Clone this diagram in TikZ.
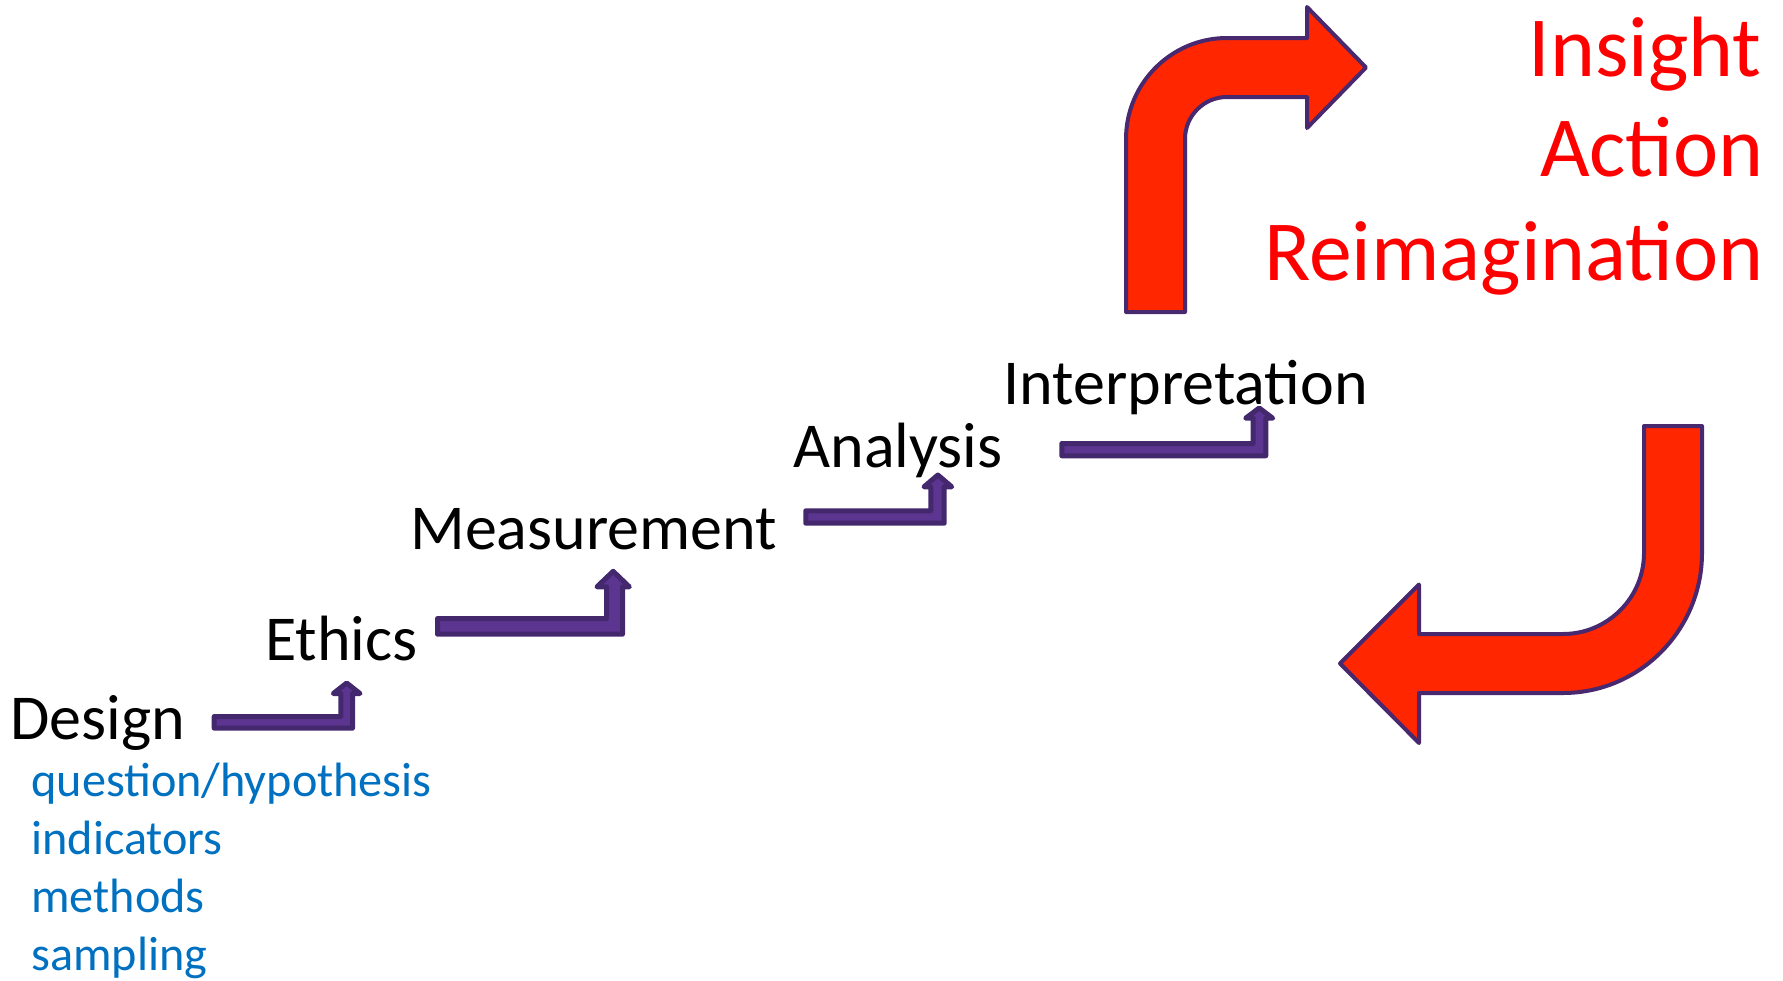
\documentclass[tikz,border=0pt]{standalone}
\usepackage{fontspec}
\setmainfont{Carlito}
\definecolor{stepfill}{RGB}{92,53,145}
\definecolor{stepline}{RGB}{68,40,110}
\definecolor{bigfill}{RGB}{255,38,0}
\definecolor{bigline}{RGB}{72,40,110}
\definecolor{textred}{RGB}{255,0,0}
\definecolor{textblue}{RGB}{0,112,192}
\newcommand{\steparrow}[9]{%
  \draw[stepstyle] ({#1+2.5},{#2+2.5}) -- ({#4+2.5},{#2+2.5}) -- ({#4+2.5},{#6-2.5})
    -- ({#7+4},{#6-2.5}) -- ({(#7+#8)/2},{#9+4}) -- ({#8-4},{#6-2.5})
    -- ({#5-2.5},{#6-2.5}) -- ({#5-2.5},{#3-2.5}) -- ({#1+2.5},{#3-2.5}) -- cycle;}
\begin{document}
\begin{tikzpicture}[x=0.5pt,y=-0.5pt,
  stepstyle/.style={fill=stepfill,draw=stepline,line width=2.5pt,line join=round},
  bigarrow/.style={fill=bigfill,draw=bigline,line width=2pt,line join=round},
  label/.style={inner sep=0pt,anchor=base west,font=\fontsize{32}{38}\selectfont},
  redlabel/.style={inner sep=0pt,anchor=base east,text=textred,font=\fontsize{42.8}{51}\selectfont},
  bluelabel/.style={inner sep=0pt,anchor=base west,text=textblue,font=\fontsize{24.1}{29}\selectfont}]
\useasboundingbox (0,0) rectangle (1783,980);
% stage labels
\node[label] (design) at (10,739) {Design};
\node[label] (ethics) at (265,660) {Ethics};
\node[label] (measurement) at (410,549.5) {Measurement};
\node[label] (analysis) at (793,467) {Analysis};
\node[label] (interpretation) at (1003,404) {Interpretation};
% design details
\node[bluelabel] (q) at (31,796) {question/hypothesis};
\node[bluelabel] (ind) at (31,854.5) {indicators};
\node[bluelabel] (meth) at (31,912) {methods};
\node[bluelabel] (samp) at (31,970) {sampling};
% outcomes
\node[redlabel] (insight) at (1762,76) {Insight};
\node[redlabel] (action) at (1764,176.7) {Action};
\node[redlabel] (reimag) at (1764,280) {Reimagination};
% step arrows
\steparrow{211.7}{714}{730.7}{338.3}{355}{696}{329.3}{364}{679}
\steparrow{435}{616}{636.7}{604}{625}{589.3}{593}{633.3}{567.3}
\steparrow{803.3}{508.3}{525.7}{928.3}{946.7}{489.3}{920}{955.7}{471}
\steparrow{1059.3}{441}{458.3}{1250.7}{1268.3}{420.7}{1241.7}{1276.7}{404}
% big upper arrow
\draw[bigarrow] (1126,312) -- (1126,139)
  .. controls (1126,83.3) and (1171.3,38) .. (1227,38)
  -- (1307,38) -- (1307,7) -- (1366,67.5) -- (1307,128) -- (1307,97)
  -- (1227,97) .. controls (1203.8,97) and (1185,115.8) .. (1185,139)
  -- (1185,312) -- cycle;
% big lower arrow
\draw[bigarrow] (1644,426) -- (1702,426) -- (1702,553)
  .. controls (1702,629.8) and (1639.8,693) .. (1563,693)
  -- (1419,693) -- (1419,743) -- (1340,663.5) -- (1419,584.5) -- (1419,634)
  -- (1563,634) .. controls (1607.7,634) and (1644,597.7) .. (1644,553)
  -- cycle;
\end{tikzpicture}
\end{document}
